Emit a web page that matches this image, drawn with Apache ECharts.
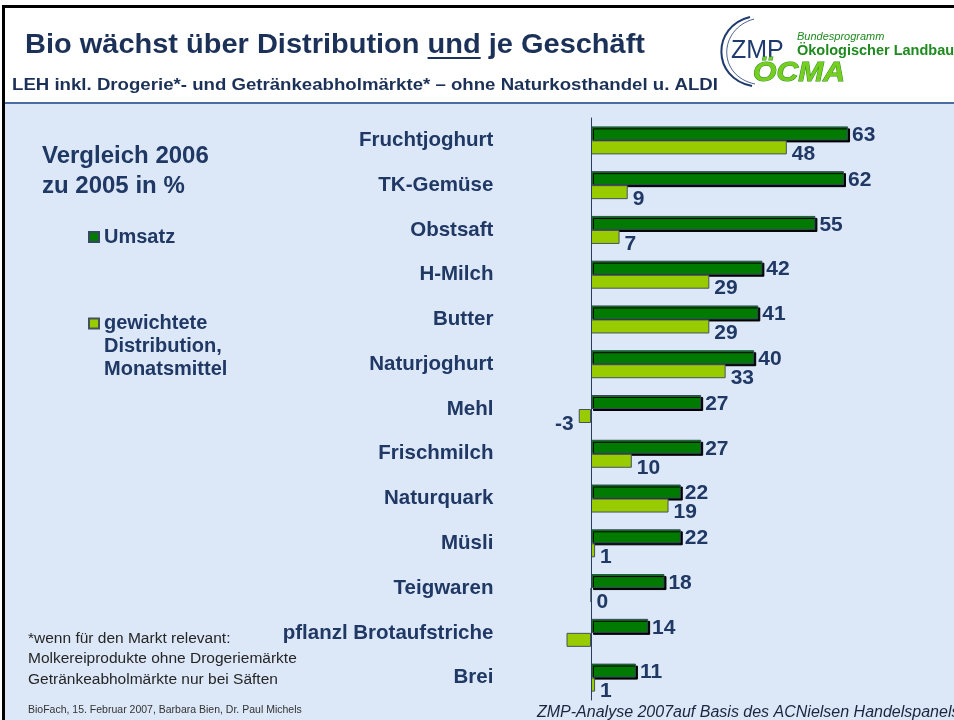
<!DOCTYPE html>
<html>
<head>
<meta charset="utf-8">
<script src="https://cdn.jsdelivr.net/npm/echarts@6/dist/echarts.min.js"></script>
<style>
  html, body { margin: 0; padding: 0; background: #fff; }
  #main { width: 954px; height: 720px; }
</style>
</head>
<body>
<div id="main"></div>
<script>
// categories (top to bottom)
var products = ['Fruchtjoghurt', 'TK-Gemüse', 'Obstsaft', 'H-Milch', 'Butter', 'Naturjoghurt',
    'Mehl', 'Frischmilch', 'Naturquark', 'Müsli', 'Teigwaren', 'pflanzl Brotaufstriche', 'Brei'];
// Umsatz, Vergleich 2006 zu 2005 in %
var umsatz = [63, 62, 55, 42, 41, 40, 27, 27, 22, 22, 18, 14, 11];
// gewichtete Distribution, Monatsmittel
var distribution = [48, 9, 7, 29, 29, 33, -3, 10, 19, 1, 0, -6, 1];
// no value printed for this one in the original
var noLabel = ['pflanzl Brotaufstriche'];

var NAVY = '#1f3864';
var FONT = 'Arial, "Liberation Sans", sans-serif';

var myChart = echarts.init(document.getElementById('main'));

// helper to squeeze text to a measured width
var ctx = document.createElement('canvas').getContext('2d');
function textWidth(str, font) {
    ctx.font = font;
    return ctx.measureText(str).width;
}

var titleFont = 'bold 28px ' + FONT;
var titleStr = 'Bio wächst über Distribution und je Geschäft';
var titleScale = 620 / textWidth(titleStr, titleFont);
var undX = 25 + textWidth('Bio wächst über Distribution ', titleFont) * titleScale;
var undW = textWidth('und', titleFont) * titleScale;

var subFont = 'bold 16.5px ' + FONT;
var subStr = 'LEH inkl. Drogerie*- und Getränkeabholmärkte* – ohne Naturkosthandel u. ALDI';
var subScale = 706 / textWidth(subStr, subFont);

var cmaFont = 'italic 900 27px ' + FONT;
var cmaScale = 92 / textWidth('ÖCMA', cmaFont);

var distData = distribution.map(function (v, i) {
    var item = { value: v };
    if (noLabel.indexOf(products[i]) >= 0) {
        item.label = { show: false };
    } else if (v < 0) {
        item.label = { position: 'left', offset: [0, 8] };
    }
    return item;
});

myChart.setOption({
    backgroundColor: '#ffffff',
    animation: false,
    textStyle: { fontFamily: FONT },
    graphic: [
        // frame and panel
        { type: 'rect', z: -10, shape: { x: 4, y: 103, width: 950, height: 617 }, style: { fill: '#dce7f7' } },
        { type: 'line', z: -9, shape: { x1: 4, y1: 103, x2: 954, y2: 103 }, style: { stroke: '#4a6da3', lineWidth: 2 } },
        { type: 'rect', shape: { x: 2, y: 5, width: 952, height: 3 }, style: { fill: '#000' } },
        { type: 'rect', shape: { x: 2, y: 5, width: 3, height: 715 }, style: { fill: '#000' } },
        // title
        { type: 'text', x: 25, y: 45, scaleX: titleScale,
          style: { text: titleStr, font: titleFont, fill: '#1c3158', verticalAlign: 'middle' } },
        { type: 'line', shape: { x1: undX, y1: 58, x2: undX + undW, y2: 58 }, style: { stroke: '#1c3158', lineWidth: 2 } },
        { type: 'text', x: 12, y: 85, scaleX: subScale,
          style: { text: subStr, font: subFont, fill: '#1c3158', verticalAlign: 'middle' } },
        // logo
        { type: 'bezierCurve', shape: { x1: 750, y1: 17, cpx1: 712, cpy1: 26, cpx2: 711, cpy2: 78, x2: 752, y2: 86 },
          style: { stroke: '#1f3a6e', lineWidth: 2, fill: null } },
        { type: 'bezierCurve', shape: { x1: 754, y1: 19, cpx1: 718, cpy1: 29, cpx2: 717, cpy2: 76, x2: 755, y2: 84 },
          style: { stroke: '#1f3a6e', lineWidth: 0.8, fill: null } },
        { type: 'text', x: 731, y: 51,
          style: { text: 'ZMP', font: '25px ' + FONT, fill: '#1f3a6e', verticalAlign: 'middle' } },
        { type: 'text', x: 797, y: 37,
          style: { text: 'Bundesprogramm', font: 'italic 11px ' + FONT, fill: '#1f8a1f', verticalAlign: 'middle' } },
        { type: 'text', x: 797, y: 51,
          style: { text: 'Ökologischer Landbau', font: 'bold 14.5px ' + FONT, fill: '#1f8a1f', verticalAlign: 'middle' } },
        { type: 'text', x: 753, y: 74, scaleX: cmaScale,
          style: { text: 'ÖCMA', font: cmaFont, fill: '#76cf1e', stroke: '#2f8f24', lineWidth: 1, verticalAlign: 'middle' } },
        // left side texts
        { type: 'text', x: 42, y: 171,
          style: { text: 'Vergleich 2006\nzu 2005 in %', font: 'bold 24px ' + FONT, fill: NAVY, lineHeight: 30, verticalAlign: 'middle' } },
        { type: 'text', x: 28, y: 659,
          style: { text: '*wenn für den Markt relevant:\nMolkereiprodukte ohne Drogeriemärkte\nGetränkeabholmärkte nur bei Säften',
                   font: '15.5px ' + FONT, fill: '#262626', lineHeight: 20.5, verticalAlign: 'middle' } },
        { type: 'text', x: 28, y: 710,
          style: { text: 'BioFach, 15. Februar 2007, Barbara Bien, Dr. Paul Michels', font: '10.5px ' + FONT, fill: '#333', verticalAlign: 'middle' } },
        { type: 'text', x: 537, y: 713,
          style: { text: 'ZMP-Analyse 2007auf Basis des ACNielsen Handelspanels', font: 'italic 16px ' + FONT, fill: '#1a2640', verticalAlign: 'middle' } }
    ],
    legend: [
        {
            data: ['Umsatz'],
            icon: 'rect',
            left: 83,
            top: 222,
            itemWidth: 10,
            itemHeight: 10,
            itemGap: 6,
            textStyle: { color: NAVY, fontWeight: 'bold', fontSize: 20, fontFamily: FONT }
        },
        {
            data: ['gewichtete Distribution, Monatsmittel'],
            icon: 'rect',
            left: 83,
            top: 261,
            itemWidth: 10,
            itemHeight: 10,
            itemGap: 6,
            // two blank lines on top so the first real line sits level with the icon
            formatter: function () { return '\n\ngewichtete\nDistribution,\nMonatsmittel'; },
            textStyle: { color: NAVY, fontWeight: 'bold', fontSize: 20, fontFamily: FONT, lineHeight: 23 }
        }
    ],
    grid: {
        left: 509.4,
        right: 77.4,
        top: 118,
        bottom: 20,
        containLabel: false
    },
    xAxis: {
        type: 'value',
        min: -20,
        max: 70,
        show: false
    },
    yAxis: {
        type: 'category',
        inverse: true,
        data: products,
        z: 5,
        axisLine: { show: true, onZero: true, lineStyle: { color: '#2b3c5c', width: 1 } },
        axisTick: { show: false },
        axisLabel: { margin: 16, color: NAVY, fontWeight: 'bold', fontSize: 20.5, fontFamily: FONT }
    },
    series: [
        {
            name: 'Umsatz',
            type: 'bar',
            data: umsatz,
            barWidth: 14,
            barGap: '0%',
            itemStyle: {
                color: '#007a00',
                borderColor: '#34495f',
                borderWidth: 1,
                shadowColor: '#000',
                shadowOffsetX: 2,
                shadowOffsetY: 2,
                shadowBlur: 0
            },
            label: {
                show: true,
                position: 'right',
                distance: 4,
                offset: [0, 2],
                color: NAVY,
                fontWeight: 'bold',
                fontSize: 21,
                fontFamily: FONT
            }
        },
        {
            name: 'gewichtete Distribution, Monatsmittel',
            type: 'bar',
            data: distData,
            barWidth: 14,
            barGap: '0%',
            itemStyle: {
                color: '#99cc00',
                borderColor: '#45525a',
                borderWidth: 1
            },
            label: {
                show: true,
                position: 'right',
                distance: 5,
                offset: [0, 7],
                color: NAVY,
                fontWeight: 'bold',
                fontSize: 21,
                fontFamily: FONT
            }
        }
    ]
});
</script>
</body>
</html>
